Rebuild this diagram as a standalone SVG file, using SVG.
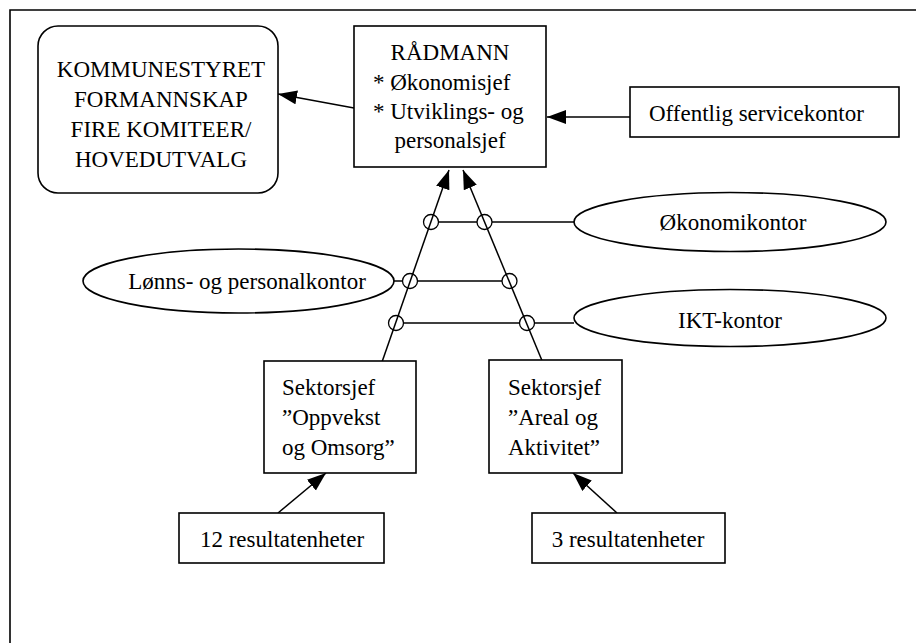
<svg xmlns="http://www.w3.org/2000/svg" width="916" height="643" viewBox="0 0 916 643" font-family="'Liberation Serif', 'DejaVu Serif', serif" font-size="23">
  <style>
    text { font-family: 'Liberation Serif', 'DejaVu Serif', serif; font-size: 23px; fill: #000; }
    .c { text-anchor: middle; }
    .box { fill: #fff; stroke: #000; stroke-width: 1.6; }
    .link { fill: none; stroke: #000; stroke-width: 1.5; }
    .arr { fill: none; stroke: #000; stroke-width: 1.5; marker-end: url(#arrow); }
    .ring { fill: none; stroke: #000; stroke-width: 1.3; }
    .frame { fill: none; stroke: #000; stroke-width: 1.6; }
  </style>
  <defs>
    <marker id="arrow" markerUnits="userSpaceOnUse" markerWidth="20" markerHeight="16" refX="19" refY="7" orient="auto">
      <path d="M0,0 L19,7 L0,14 z" fill="#000"/>
    </marker>
  </defs>

  <rect width="916" height="643" fill="#fff"/>
  <path class="frame" d="M10,643 V10 H916"/>

  <g id="connectors">
    <line class="arr" x1="354" y1="108" x2="278" y2="94"/>
    <line class="arr" x1="630" y1="117" x2="547" y2="117"/>
    <line class="arr" x1="382" y1="362" x2="449" y2="170"/>
    <line class="arr" x1="543" y1="363" x2="463" y2="170"/>
    <line class="arr" x1="278" y1="513" x2="326" y2="473"/>
    <line class="arr" x1="617" y1="513" x2="573" y2="473"/>
    <!-- crossings on the two reporting lines -->
    <circle class="ring" cx="431" cy="222" r="7.5"/>
    <circle class="ring" cx="484.5" cy="222" r="7.5"/>
    <circle class="ring" cx="410" cy="281" r="7.5"/>
    <circle class="ring" cx="509.5" cy="281" r="7.5"/>
    <circle class="ring" cx="396" cy="323" r="7.5"/>
    <circle class="ring" cx="527" cy="323" r="7.5"/>
    <path class="link" d="M438.5,222 H477 M492,222 H574"/>
    <path class="link" d="M394,281 H402.5 M417.5,281 H502"/>
    <path class="link" d="M403.5,323 H519.5 M534.5,323 H574"/>
  </g>

  <g id="kommunestyret">
    <rect class="box" x="38" y="26" width="240" height="167" rx="20" ry="20"/>
    <text class="c" x="161" y="77">KOMMUNESTYRET</text>
    <text class="c" x="161" y="107">FORMANNSKAP</text>
    <text class="c" x="161" y="137">FIRE KOMITEER/</text>
    <text class="c" x="161" y="167">HOVEDUTVALG</text>
  </g>

  <g id="radmann">
    <rect class="box" x="354" y="26" width="192" height="141"/>
    <text class="c" x="450" y="60">RÅDMANN</text>
    <text x="373" y="90">* Økonomisjef</text>
    <text x="373" y="119">* Utviklings- og</text>
    <text class="c" x="450" y="148">personalsjef</text>
  </g>

  <g id="servicekontor">
    <rect class="box" x="630" y="87" width="269" height="50"/>
    <text x="649" y="121">Offentlig servicekontor</text>
  </g>

  <g id="okonomikontor">
    <ellipse class="box" cx="730" cy="222" rx="156" ry="29.5"/>
    <text class="c" x="733" y="230">Økonomikontor</text>
  </g>

  <g id="lonnskontor">
    <ellipse class="box" cx="238.5" cy="281" rx="155.5" ry="32"/>
    <text class="c" x="247" y="289">Lønns- og personalkontor</text>
  </g>

  <g id="iktkontor">
    <ellipse class="box" cx="730" cy="318" rx="156" ry="28.5"/>
    <text class="c" x="730" y="328">IKT-kontor</text>
  </g>

  <g id="sektor-oppvekst">
    <rect class="box" x="264" y="361" width="152" height="112"/>
    <text x="282" y="395">Sektorsjef</text>
    <text x="282" y="425">”Oppvekst</text>
    <text x="282" y="455">og Omsorg”</text>
  </g>

  <g id="sektor-areal">
    <rect class="box" x="489" y="360" width="133" height="113"/>
    <text x="508" y="395">Sektorsjef</text>
    <text x="508" y="425">”Areal og</text>
    <text x="508" y="455">Aktivitet”</text>
  </g>

  <g id="enheter-12">
    <rect class="box" x="179" y="513" width="205" height="50"/>
    <text class="c" x="282" y="547">12 resultatenheter</text>
  </g>

  <g id="enheter-3">
    <rect class="box" x="532" y="513" width="193" height="50"/>
    <text class="c" x="628" y="547">3 resultatenheter</text>
  </g>
</svg>
